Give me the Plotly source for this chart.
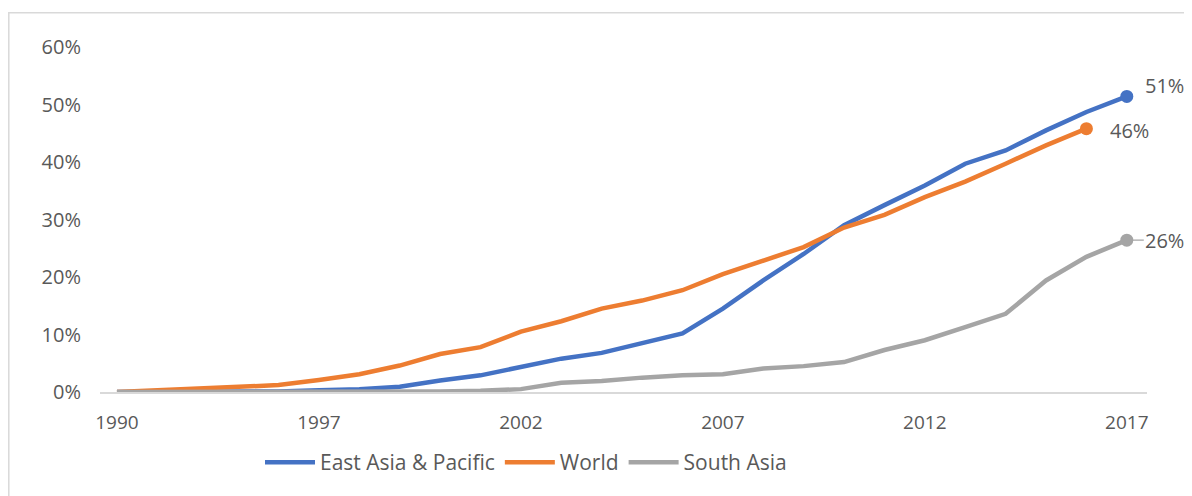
import plotly.graph_objects as go

years = ["1990", "1993", "1994", "1995", "1996", "1997", "1998", "1999", "2000",
         "2001", "2002", "2003", "2004", "2005", "2006", "2007", "2008", "2009",
         "2010", "2011", "2012", "2013", "2014", "2015", "2016", "2017"]

east_asia = [0.000, 0.000, 0.000, 0.000, 0.001, 0.003, 0.005, 0.009, 0.020,
             0.029, 0.044, 0.058, 0.068, 0.085, 0.102, 0.145, 0.194, 0.240,
             0.290, 0.325, 0.359, 0.397, 0.420, 0.455, 0.487, 0.514]

world = [0.000, 0.003, 0.005, 0.008, 0.012, 0.021, 0.031, 0.046, 0.066,
         0.078, 0.105, 0.123, 0.145, 0.159, 0.177, 0.205, 0.229, 0.252,
         0.286, 0.308, 0.339, 0.366, 0.397, 0.429, 0.458]

south_asia = [0.000, 0.000, 0.000, 0.000, 0.000, 0.000, 0.000, 0.0005, 0.001,
              0.002, 0.005, 0.016, 0.019, 0.025, 0.029, 0.031, 0.041, 0.045,
              0.052, 0.073, 0.090, 0.113, 0.136, 0.194, 0.235, 0.264]

series_names = ["East Asia & Pacific", "World", "South Asia"]
end_labels = ["51%", "46%", "26%"]
tick_years = ["1990", "1997", "2002", "2007", "2012", "2017"]
y_ticks = [0, 0.1, 0.2, 0.3, 0.4, 0.5, 0.6]

colors = ["#4472C4", "#ED7D31", "#A5A5A5"]
FONT = "Open Sans"
TXT = "#595959"

fig = go.Figure()
all_series = [east_asia, world, south_asia]
for name, vals, col in zip(series_names, all_series, colors):
    xs = years[:len(vals)]
    fig.add_trace(go.Scatter(x=xs, y=vals, mode="lines", name=name,
                             line=dict(color=col, width=4.5)))
for vals, col in zip(all_series, colors):
    xs = years[:len(vals)]
    fig.add_trace(go.Scatter(x=[xs[-1]], y=[vals[-1]], mode="markers",
                             marker=dict(color=col, size=13), showlegend=False,
                             hoverinfo="skip"))

# end labels (x given as category index)
lab_font = dict(family=FONT, size=20, color=TXT)
fig.add_annotation(x=len(east_asia) - 1, y=east_asia[-1], text=end_labels[0],
                   showarrow=False, xshift=38, yshift=11, font=lab_font)
fig.add_annotation(x=len(world) - 1, y=world[-1], text=end_labels[1],
                   showarrow=False, xshift=43, yshift=-2, font=lab_font)
fig.add_annotation(x=len(south_asia) - 1, y=south_asia[-1], text=end_labels[2],
                   showarrow=True, arrowhead=0, arrowcolor="#A5A5A5", arrowwidth=1.2,
                   ax=38, ay=0, standoff=6, font=lab_font)

# outer light border (only top/left visible in the crop)
fig.add_shape(type="rect", xref="paper", yref="paper",
              x0=-(92 - 0.8) / 1047, y0=-0.6, x1=1.3, y1=(383.7 - 4.5) / 345,
              line=dict(color="#D9D9D9", width=1.5), fillcolor="rgba(0,0,0,0)",
              layer="below")

fig.update_layout(
    width=1192, height=496,
    margin=dict(l=92, r=53, t=39, b=112),
    paper_bgcolor="white", plot_bgcolor="white",
    font=dict(family=FONT, size=19, color=TXT),
    showlegend=True,
    legend=dict(orientation="h", x=(252 - 92) / 1047, xanchor="left",
                y=-0.145, yanchor="top", font=dict(family=FONT, size=21, color=TXT),
                itemwidth=50),
    xaxis=dict(type="category", categoryorder="array", categoryarray=years,
               range=[-0.42, 25.5], tickmode="array", tickvals=tick_years,
               ticktext=tick_years, showgrid=False, zeroline=False,
               showline=True, linecolor="#D9D9D9", linewidth=1.5,
               ticks="", ticklabelstandoff=12,
               tickfont=dict(family=FONT, size=19, color=TXT)),
    yaxis=dict(range=[0, 0.6], tickmode="array", tickvals=y_ticks,
               tickformat=".0%", showgrid=False, zeroline=False, showline=False,
               ticks="", ticklabelstandoff=18,
               tickfont=dict(family=FONT, size=20, color=TXT)),
)

fig.write_html("out.html")
